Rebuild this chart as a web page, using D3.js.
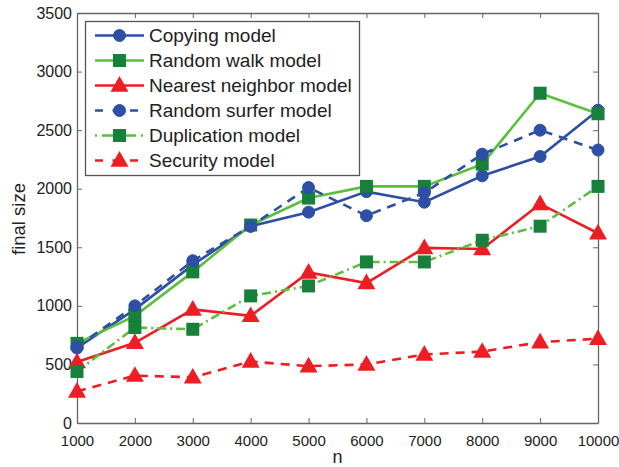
<!DOCTYPE html>
<html>
<head>
<meta charset="utf-8">
<script src="https://cdn.jsdelivr.net/npm/d3@7"></script>
<style>
html,body{margin:0;padding:0;background:#fff;}
svg{display:block;font-family:"Liberation Sans",Arial,sans-serif;}
</style>
</head>
<body>
<svg id="chart" width="619" height="467"></svg>
<script>
const nValues = [1000, 2000, 3000, 4000, 5000, 6000, 7000, 8000, 9000, 10000];
const copying = [640, 970, 1350, 1680, 1800, 1975, 1885, 2110, 2275, 2670];
const randomWalk = [680, 915, 1290, 1690, 1920, 2020, 2020, 2210, 2815, 2640];
const nearestNeighbor = [520, 685, 970, 915, 1285, 1195, 1495, 1485, 1870, 1620];
const randomSurfer = [650, 1000, 1385, 1680, 2010, 1770, 1965, 2295, 2500, 2330];
const duplication = [440, 815, 800, 1085, 1170, 1375, 1375, 1560, 1680, 2020];
const security = [270, 405, 390, 525, 485, 500, 585, 610, 690, 720];
const seriesNames = ["Copying model", "Random walk model", "Nearest neighbor model", "Random surfer model", "Duplication model", "Security model"];
const yTicks = [0, 500, 1000, 1500, 2000, 2500, 3000, 3500];

const BLUE = "#2e4fa6", LGREEN = "#5cbf3c", DGREEN = "#17803a", RED = "#ee1d23";
const series = [
  {name: seriesNames[0], values: copying, line: BLUE, fill: BLUE, dash: null, marker: "circle"},
  {name: seriesNames[1], values: randomWalk, line: LGREEN, fill: DGREEN, dash: null, marker: "square"},
  {name: seriesNames[2], values: nearestNeighbor, line: RED, fill: RED, dash: null, marker: "triangle"},
  {name: seriesNames[3], values: randomSurfer, line: BLUE, fill: BLUE, dash: "9,7", marker: "circle"},
  {name: seriesNames[4], values: duplication, line: LGREEN, fill: DGREEN, dash: "9,4,2,4", marker: "square"},
  {name: seriesNames[5], values: security, line: RED, fill: RED, dash: "9,7", marker: "triangle"}
];

const L = 77, R = 598, T = 13, B = 423;
const svg = d3.select("#chart");
const x = d3.scaleLinear().domain([1000, 10000]).range([L, R]);
const y = d3.scaleLinear().domain([0, 3500]).range([B, T]);
const AX = "#666";

// axes
const gx = svg.append("g").attr("transform", `translate(0,${B})`)
  .call(d3.axisBottom(x).tickValues(nValues).tickFormat(d3.format("d")).tickSizeInner(-5).tickSizeOuter(0).tickPadding(12));
const gxt = svg.append("g").attr("transform", `translate(0,${T})`)
  .call(d3.axisTop(x).tickValues(nValues).tickFormat("").tickSizeInner(-5).tickSizeOuter(0));
const gy = svg.append("g").attr("transform", `translate(${L},0)`)
  .call(d3.axisLeft(y).tickValues(yTicks).tickFormat(d3.format("d")).tickSizeInner(-5).tickSizeOuter(0).tickPadding(5));
const gyr = svg.append("g").attr("transform", `translate(${R},0)`)
  .call(d3.axisRight(y).tickValues(yTicks).tickFormat("").tickSizeInner(-5).tickSizeOuter(0));
[gx, gxt, gy, gyr].forEach(g => {
  g.select(".domain").attr("stroke", AX).attr("stroke-width", 1.3);
  g.selectAll(".tick line").attr("stroke", AX).attr("stroke-width", 1);
  g.selectAll("text").attr("fill", "#222").attr("font-family", "Liberation Sans, Arial, sans-serif");
});
gx.selectAll("text").attr("font-size", 15);
gy.selectAll("text").attr("font-size", 16);

svg.append("text").attr("x", (L + R) / 2).attr("y", 463).attr("text-anchor", "middle")
  .attr("font-size", 18).attr("fill", "#222").text("n");
svg.append("text").attr("transform", `translate(25,219) rotate(-90)`).attr("text-anchor", "middle")
  .attr("font-size", 18.5).attr("fill", "#222").text("final size");

function drawMarker(g, type, cx, cy, fill) {
  if (type === "circle") {
    g.append("circle").attr("cx", cx).attr("cy", cy).attr("r", 6).attr("fill", fill).attr("stroke", fill);
  } else if (type === "square") {
    g.append("rect").attr("x", cx - 6.5).attr("y", cy - 6.5).attr("width", 13).attr("height", 13).attr("fill", fill);
  } else {
    const s = 18, h = s * 0.87;
    g.append("path").attr("d", `M${cx},${cy - h * 0.6}L${cx + s / 2},${cy + h * 0.4}L${cx - s / 2},${cy + h * 0.4}Z`).attr("fill", fill);
  }
}

const line = d3.line().x((d, i) => x(nValues[i])).y(d => y(d));
const plot = svg.append("g");
series.forEach(s => {
  plot.append("path").datum(s.values).attr("d", line).attr("fill", "none")
    .attr("stroke", s.line).attr("stroke-width", 2.6).attr("stroke-dasharray", s.dash);
});
series.forEach(s => {
  const g = plot.append("g");
  s.values.forEach((v, i) => drawMarker(g, s.marker, x(nValues[i]), y(v), s.fill));
});

// legend
const lg = svg.append("g");
lg.append("rect").attr("x", 85.5).attr("y", 21.5).attr("width", 274).attr("height", 154)
  .attr("fill", "#fff").attr("stroke", "#555").attr("stroke-width", 1.3);
series.forEach((s, i) => {
  const cy = 35.5 + i * 25;
  lg.append("line").attr("x1", 95).attr("x2", 144).attr("y1", cy).attr("y2", cy)
    .attr("stroke", s.line).attr("stroke-width", 2.6)
    .attr("stroke-dasharray", s.dash ? (s.dash === "9,7" ? "8,9.5" : "2,5,11,5") : null);
  drawMarker(lg, s.marker, 119.5, cy, s.fill);
  lg.append("text").attr("x", 149).attr("y", cy + 6.5).attr("font-size", 19).attr("fill", "#222").text(s.name);
});
</script>
</body>
</html>
